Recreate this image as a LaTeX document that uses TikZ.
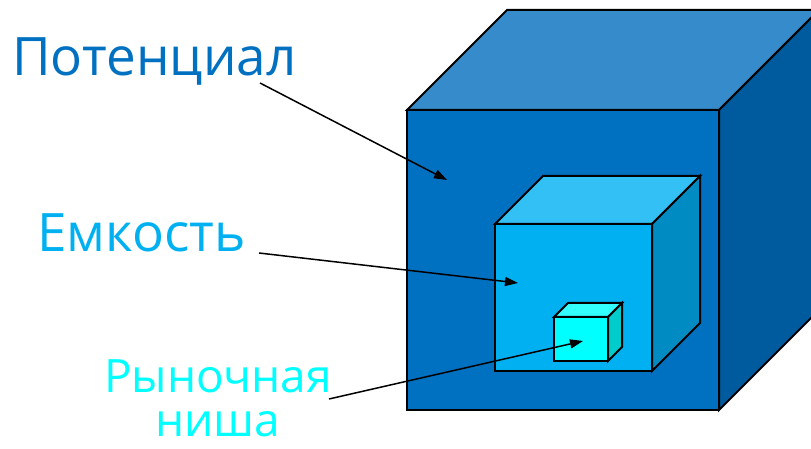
\documentclass[tikz,border=0pt]{standalone}
\usepackage{fontspec}
\setmainfont{Open Sans}
\usetikzlibrary{arrows.meta}

\definecolor{potfront}{HTML}{0070C0}
\definecolor{pottop}{HTML}{368CCB}
\definecolor{potside}{HTML}{005A9E}
\definecolor{emkfront}{HTML}{00B0F0}
\definecolor{emktop}{HTML}{33C0F5}
\definecolor{emkside}{HTML}{008BC3}
\definecolor{nishfront}{HTML}{00FFFF}
\definecolor{nishtop}{HTML}{33FFFF}
\definecolor{nishside}{HTML}{00CCCC}

% x, top y, width, height, depth, front, top, side
\newcommand{\boxcube}[8]{%
  \filldraw[fill=#6] (#1,#2) rectangle ++(#3,-#4);
  \filldraw[fill=#7] (#1,#2) -- ++(#5,#5) -- ++(#3,0) -- ++(-#5,-#5) -- cycle;
  \filldraw[fill=#8] (#1+#3,#2) -- ++(#5,#5) -- ++(0,-#4) -- ++(-#5,-#5) -- cycle;
}

\begin{document}
\begin{tikzpicture}[x=1pt,y=1pt,
   cube edge/.style={draw=black,line width=2pt,line join=miter},
   label text/.style={font=\fontsize{53}{50}\selectfont,inner sep=0pt},
   pointer/.style={line width=1.5pt,-{Triangle[length=13pt,width=9pt]}}]
\clip (0,0) rectangle (811,449);

\begin{scope}[every path/.style={cube edge}]
\boxcube{407}{339}{312}{300}{100}{potfront}{pottop}{potside}
\boxcube{495}{225}{157}{147}{48}{emkfront}{emktop}{emkside}
\boxcube{554}{132}{54}{44}{14}{nishfront}{nishtop}{nishside}
\end{scope}

\node[label text,text=potfront,anchor=base west] (pot) at (12,373) {Потенциал};
\node[label text,text=emkfront,anchor=base west] (emk) at (37,197) {Емкость};
\node[label text,font=\fontsize{46}{44}\selectfont,text=nishfront,anchor=base,align=center] (nish) at (218,12) {Рыночная\\ниша};

\coordinate (pot start) at (260,366);
\coordinate (pot tip) at (447,269);
\coordinate (emk start) at (259,196);
\coordinate (emk tip) at (518,166);
\coordinate (nish start) at (329,50);
\coordinate (nish tip) at (583,108);

\draw[pointer] (pot start) -- (pot tip);
\draw[pointer] (emk start) -- (emk tip);
\draw[pointer] (nish start) -- (nish tip);
\end{tikzpicture}
\end{document}
